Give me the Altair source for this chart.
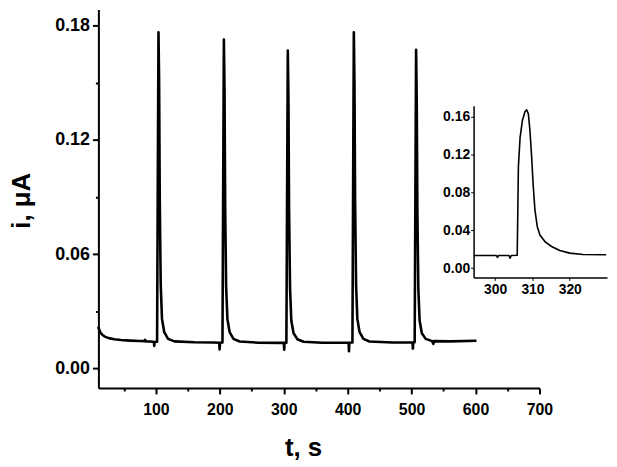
import altair as alt
import pandas as pd

# ---- main trace (t in s, i in uA) ----
MAIN_T = [10, 11, 13, 16, 20, 26, 35, 45, 60, 75, 82, 83, 84, 92, 96.8, 97.4, 98,
          101.8, 103, 104, 105, 106, 107.5, 109.5, 113, 119, 129, 160, 190,
          199, 199.6, 200.3, 204.1, 205.3, 206.3, 207.3, 208.3, 209.8, 211.8, 215.3, 221.3, 231,
          260, 295, 300.1, 300.7, 301.3, 304.1, 305.3, 306.3, 307.3, 308.3, 309.8, 311.8, 315.3,
          321.3, 331, 360, 401.4, 402, 402.6, 407.4, 408.6, 409.6, 410.6, 411.6, 413.1, 415.1,
          418.6, 424.6, 434, 470, 501.4, 502, 502.6, 504.8, 506, 507, 508, 509, 510.5, 512.5,
          516, 522, 532, 534, 535, 560, 601.5]
MAIN_I = [0.0219, 0.0205, 0.0190, 0.0177, 0.0167, 0.0159, 0.0153, 0.0149, 0.0146, 0.0144,
          0.0143, 0.0150, 0.0142, 0.0141, 0.0139, 0.0118, 0.0139,
          0.0140, 0.105, 0.1765, 0.150, 0.088, 0.044, 0.026, 0.019, 0.0155, 0.0142, 0.0137, 0.0136,
          0.0135, 0.0100, 0.0135, 0.0136, 0.103, 0.1727, 0.147, 0.086, 0.043, 0.026, 0.019, 0.0155,
          0.0141,
          0.0135, 0.0134, 0.0134, 0.0098, 0.0134, 0.0135, 0.100, 0.167, 0.142, 0.083, 0.042, 0.025,
          0.0185, 0.0153, 0.0140, 0.0135, 0.0135, 0.0090, 0.0135, 0.0136, 0.105, 0.1765, 0.150,
          0.088, 0.044, 0.026, 0.019, 0.0155, 0.0141, 0.0136, 0.0136, 0.0104, 0.0137, 0.0137,
          0.100, 0.1673, 0.142, 0.083, 0.042, 0.025, 0.0185, 0.0155, 0.0143, 0.0128, 0.0143,
          0.0142, 0.0145]

# ---- inset trace (zoom on the third peak) ----
INSET_T = [294.2, 300.3, 300.6, 300.9, 303.7, 304.0, 304.3, 305.9, 305.96, 306.22, 306.67,
           307.29, 308.0, 308.44, 308.89, 309.33, 309.78, 310.22, 310.67, 311.29, 312.0,
           313.33, 315.11, 317.33, 320.0, 323.56, 329.78]
INSET_I = [0.0133, 0.0133, 0.0112, 0.0133, 0.0133, 0.0105, 0.0133, 0.0135, 0.030, 0.107,
           0.138, 0.156, 0.1655, 0.1673, 0.163, 0.145, 0.117, 0.0858, 0.061, 0.0437, 0.035,
           0.028, 0.0228, 0.0186, 0.0158, 0.0143, 0.0140]

X_TICKS = [50, 100, 150, 200, 250, 300, 350, 400, 450, 500, 550, 600, 650, 700]
Y_TICKS = [0.0, 0.03, 0.06, 0.09, 0.12, 0.15, 0.18]
INSET_X_TICKS = [300, 310, 320]
INSET_Y_TICKS = [0.0, 0.04, 0.08, 0.12, 0.16]

FONT = "Liberation Sans"

main_df = pd.DataFrame({"t": MAIN_T, "i": MAIN_I})
inset_df = pd.DataFrame({"t": INSET_T, "i": INSET_I})

common_axis = dict(
    grid=False, domainColor="black", tickColor="black", labelColor="black",
    labelFont=FONT, labelFontWeight="bold", titleFont=FONT, titleFontWeight="bold",
    titleColor="black", labelFlush=False,
)

main = alt.Chart(main_df).mark_line(color="black", strokeWidth=2.6, strokeJoin="round").encode(
    x=alt.X("t:Q",
            scale=alt.Scale(domain=[10, 700], nice=False, zero=False),
            axis=alt.Axis(values=X_TICKS, format="d",
                          labelExpr="datum.value % 100 === 0 ? datum.label : ''",
                          tickSize={"condition": {"test": "datum.value % 100 === 0", "value": 6}, "value": 3},
                          domainWidth=2, tickWidth=2, labelFontSize=16, labelPadding=8,
                          title="t, s", titleFontSize=26, titleX=206, titleY=68,
                          titleAlign="center", titleBaseline="alphabetic",
                          **common_axis)),
    y=alt.Y("i:Q",
            scale=alt.Scale(domain=[-0.0103, 0.1885], nice=False, zero=False),
            axis=alt.Axis(values=Y_TICKS,
                          labelExpr="round(datum.value*100) % 6 === 0 ? format(datum.value, '.2f') : ''",
                          tickSize={"condition": {"test": "round(datum.value*100) % 6 === 0", "value": 6}, "value": 3},
                          domainWidth=2, tickWidth=2, labelFontSize=18, labelPadding=3,
                          title="i, μA", titleFontSize=26, titleAngle=270, titleX=-69, titleY=192,
                          titleAlign="center", titleBaseline="alphabetic",
                          **common_axis)),
)

inset = alt.Chart(inset_df).mark_line(color="black", strokeWidth=1.6, strokeJoin="round").encode(
    x=alt.X("t:Q",
            scale=alt.Scale(domain=[294.2, 330], range=[377.7, 512], nice=False, zero=False),
            axis=alt.Axis(orient="bottom", offset=-111.3, values=INSET_X_TICKS, format="d",
                          tickSize=3, tickWidth=1, domainWidth=1.5, labelFontSize=14,
                          labelPadding=2, title=None, **common_axis)),
    y=alt.Y("i:Q",
            scale=alt.Scale(domain=[-0.0099, 0.1715], range=[269.7, 97], nice=False, zero=False),
            axis=alt.Axis(orient="left", offset=-377.7, values=INSET_Y_TICKS, format=".2f",
                          tickSize=3, tickWidth=1, domainWidth=1.5, labelFontSize=14,
                          labelPadding=1, title=None, **common_axis)),
)

chart = alt.layer(main, inset).resolve_scale(
    x="independent", y="independent"
).properties(
    width=444, height=381,
    autosize=alt.AutoSizeParams(type="none"),
    padding={"left": 91, "top": 0, "right": 70, "bottom": 76},
).configure_view(stroke=None)

chart.save("out.html", embed_options={"renderer": "svg", "actions": False})
